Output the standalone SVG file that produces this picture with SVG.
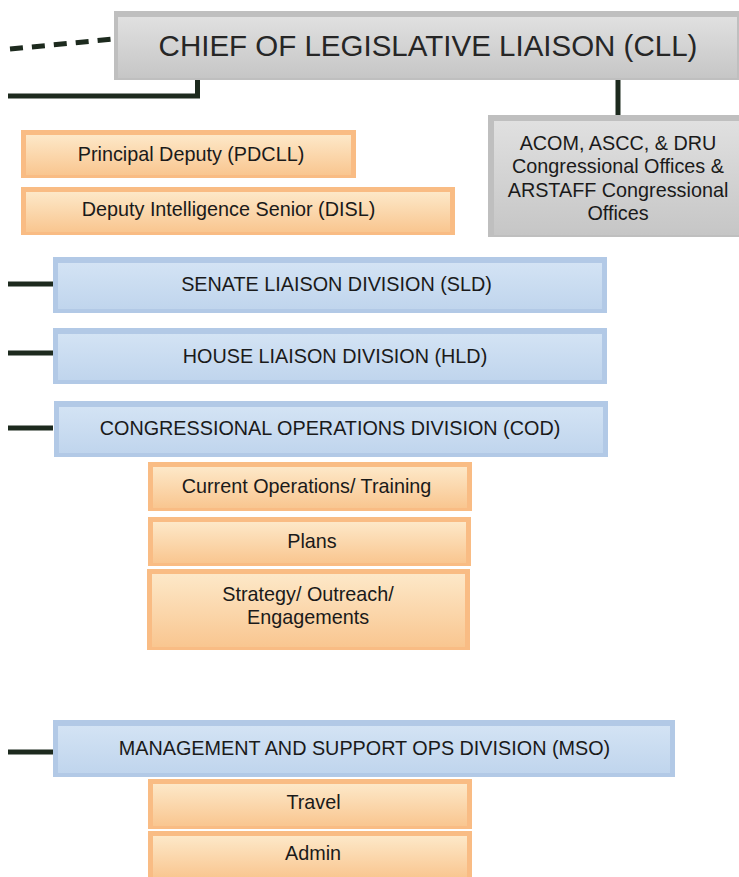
<svg xmlns="http://www.w3.org/2000/svg" width="739" height="877" viewBox="0 0 739 877">
  <defs>
    <linearGradient id="gOrange" x1="0" y1="0" x2="0" y2="1">
      <stop offset="0" stop-color="#fde8c8"/>
      <stop offset="1" stop-color="#f9c690"/>
    </linearGradient>
    <linearGradient id="gBlue" x1="0" y1="0" x2="0" y2="1">
      <stop offset="0" stop-color="#d3e3f4"/>
      <stop offset="1" stop-color="#c0d5ed"/>
    </linearGradient>
    <linearGradient id="gGray" x1="0" y1="0" x2="0" y2="1">
      <stop offset="0" stop-color="#e0e0e0"/>
      <stop offset="1" stop-color="#c6c6c6"/>
    </linearGradient>
  </defs>
  <style>
    .oOut { fill: #f9bc84; }
    .oIn { fill: url(#gOrange); }
    .bOut { fill: #b2c9e6; }
    .bIn { fill: url(#gBlue); }
    .gOut { fill: #bfbfbf; }
    .gIn { fill: url(#gGray); }
    text { font-family: "Liberation Sans", Arial, sans-serif; fill: #1a1a1a; text-anchor: middle; font-size: 19.8px; }
    .big { font-size: 29.5px; fill: #262626; }
    .wire { stroke: #1d2a1e; stroke-width: 5; fill: none; }
  </style>

  <!-- connectors -->
  <g id="connectors">
    <path class="wire" d="M10 49 L114 39" stroke-dasharray="13 9"/>
    <path class="wire" d="M8 96 H197.5 V80"/>
    <path class="wire" d="M618 80 V116"/>
    <path class="wire" d="M8 284 H53"/>
    <path class="wire" d="M8 353 H53"/>
    <path class="wire" d="M8 428 H53"/>
    <path class="wire" d="M8 752 H53"/>
  </g>

  <g id="cll">
    <rect class="gOut" x="114" y="11" width="625" height="69"/>
    <rect class="gIn" x="118" y="17" width="619" height="61"/>
    <text class="big" x="428" y="55.5">CHIEF OF LEGISLATIVE LIAISON (CLL)</text>
  </g>

  <g id="acom">
    <rect class="gOut" x="488" y="115" width="251" height="122"/>
    <rect class="gIn" x="494" y="121" width="245" height="114"/>
    <text x="618" y="150">ACOM, ASCC, &amp; DRU</text>
    <text x="618" y="173">Congressional Offices &amp;</text>
    <text x="618" y="196.5">ARSTAFF Congressional</text>
    <text x="618" y="220">Offices</text>
  </g>

  <g id="pdcll">
    <rect class="oOut" x="21" y="130" width="335" height="48"/>
    <rect class="oIn" x="26" y="135" width="325" height="40"/>
    <text x="191" y="161">Principal Deputy (PDCLL)</text>
  </g>

  <g id="disl">
    <rect class="oOut" x="21" y="187" width="434" height="48"/>
    <rect class="oIn" x="26" y="192" width="424" height="40"/>
    <text x="228.5" y="216">Deputy Intelligence Senior (DISL)</text>
  </g>

  <g id="sld">
    <rect class="bOut" x="53" y="257" width="554" height="56"/>
    <rect class="bIn" x="58" y="263" width="544" height="46"/>
    <text x="336.5" y="291">SENATE LIAISON DIVISION (SLD)</text>
  </g>

  <g id="hld">
    <rect class="bOut" x="53" y="328" width="554" height="56"/>
    <rect class="bIn" x="58" y="334" width="544" height="46"/>
    <text x="335" y="363">HOUSE LIAISON DIVISION (HLD)</text>
  </g>

  <g id="cod">
    <rect class="bOut" x="54" y="401" width="554" height="56"/>
    <rect class="bIn" x="59" y="407" width="544" height="46"/>
    <text x="330" y="435">CONGRESSIONAL OPERATIONS DIVISION (COD)</text>
  </g>

  <g id="current-ops">
    <rect class="oOut" x="148" y="462" width="324" height="49"/>
    <rect class="oIn" x="153" y="467" width="314" height="41"/>
    <text x="306.5" y="493">Current Operations/ Training</text>
  </g>

  <g id="plans">
    <rect class="oOut" x="148" y="517" width="323" height="49"/>
    <rect class="oIn" x="153" y="522" width="313" height="41"/>
    <text x="312" y="548">Plans</text>
  </g>

  <g id="strategy">
    <rect class="oOut" x="147" y="569" width="323" height="81"/>
    <rect class="oIn" x="152" y="574" width="313" height="73"/>
    <text x="308" y="600.5">Strategy/ Outreach/</text>
    <text x="308" y="623.5">Engagements</text>
  </g>

  <g id="mso">
    <rect class="bOut" x="53" y="720" width="622" height="57"/>
    <rect class="bIn" x="58" y="726" width="612" height="47"/>
    <text x="364.5" y="755">MANAGEMENT AND SUPPORT OPS DIVISION (MSO)</text>
  </g>

  <g id="travel">
    <rect class="oOut" x="148" y="779" width="324" height="50"/>
    <rect class="oIn" x="153" y="784" width="314" height="42"/>
    <text x="313.5" y="809">Travel</text>
  </g>

  <g id="admin">
    <rect class="oOut" x="148" y="831" width="324" height="50"/>
    <rect class="oIn" x="153" y="836" width="314" height="42"/>
    <text x="313" y="860">Admin</text>
  </g>
</svg>
